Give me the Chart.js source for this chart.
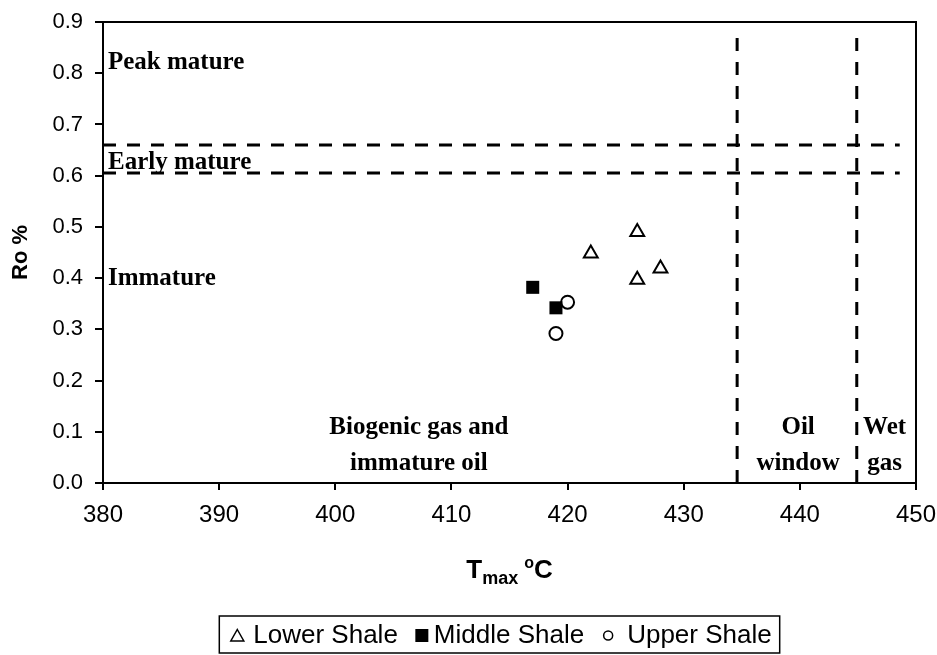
<!DOCTYPE html>
<html>
<head>
<meta charset="utf-8">
<title>Ro vs Tmax</title>
<script src="https://cdn.jsdelivr.net/npm/chart.js@4.4.0/dist/chart.umd.min.js"></script>
<style>
  html, body { margin: 0; padding: 0; background: #fff; }
  #wrap { width: 937px; height: 655px; }
</style>
</head>
<body>
<div id="wrap"><canvas id="maturityChart" width="937" height="655"></canvas></div>
<script>
// Tmax (°C) and Ro (%) per shale unit
const lowerTmax  = [426, 422, 428, 426];
const lowerRo    = [0.49, 0.448, 0.419, 0.397];
const middleTmax = [417, 419];
const middleRo   = [0.382, 0.342];
const upperTmax  = [420, 419];
const upperRo    = [0.353, 0.292];

// maturity zone boundaries
const roLimits   = [0.605, 0.66];
const tmaxLimits = [434.6, 444.9];

const xTicks = [380, 390, 400, 410, 420, 430, 440, 450];
const yTicks = [0, 0.1, 0.2, 0.3, 0.4, 0.5, 0.6, 0.7, 0.8, 0.9];

const seriesNames = ['Lower Shale', 'Middle Shale', 'Upper Shale'];

// zone names, placed in data units
const zoneLabels = [
    { lines: ['Peak mature'], x: 380.43, y: 0.82, align: 'left' },
    { lines: ['Early mature'], x: 380.43, y: 0.625, align: 'left' },
    { lines: ['Immature'], x: 380.43, y: 0.40, align: 'left' },
    { lines: ['Biogenic gas and', 'immature oil'], x: 407.2, y: 0.109, align: 'center' },
    { lines: ['Oil', 'window'], x: 439.85, y: 0.109, align: 'center' },
    { lines: ['Wet', 'gas'], x: 447.3, y: 0.109, align: 'center' }
];

function toPoints(xs, ys) {
    return xs.map((x, i) => ({ x: x, y: ys[i] }));
}

const dash = { borderColor: '#000', borderWidth: 3, borderDash: [13, 11], pointRadius: 0, showLine: true, fill: false };

const datasets = [
    { label: seriesNames[0], data: toPoints(lowerTmax, lowerRo), pointStyle: 'triangle', pointRadius: 8,
      backgroundColor: '#fff', borderColor: '#000', borderWidth: 2 },
    { label: seriesNames[1], data: toPoints(middleTmax, middleRo), pointStyle: 'rect', pointRadius: 9.2,
      backgroundColor: '#000', borderColor: '#000', borderWidth: 0 },
    { label: seriesNames[2], data: toPoints(upperTmax, upperRo), pointStyle: 'circle', pointRadius: 6.5,
      backgroundColor: '#fff', borderColor: '#000', borderWidth: 2 }
];
roLimits.forEach(r => datasets.push(Object.assign({ data: [{ x: 380, y: r }, { x: 448.6, y: r }] }, dash)));
tmaxLimits.forEach(t => datasets.push(Object.assign({ data: [{ x: t, y: 0 }, { x: t, y: 0.89 }] }, dash)));

const frameAndText = {
    id: 'frameAndText',
    afterDatasetsDraw(chart) {
        const ctx = chart.ctx;
        const a = chart.chartArea;
        const xs = chart.scales.x, ys = chart.scales.y;
        ctx.save();
        ctx.strokeStyle = '#000';
        ctx.lineWidth = 2;
        ctx.strokeRect(a.left, a.top, a.right - a.left, a.bottom - a.top);

        ctx.fillStyle = '#000';
        ctx.font = 'bold 25px "Liberation Serif", "Times New Roman", serif';
        ctx.textBaseline = 'middle';
        zoneLabels.forEach(z => {
            ctx.textAlign = z.align;
            const px = xs.getPixelForValue(z.x);
            const py = ys.getPixelForValue(z.y);
            z.lines.forEach((t, i) => ctx.fillText(t, px, py + i * 36));
        });
        ctx.restore();
    },
    afterDraw(chart) {
        const ctx = chart.ctx;
        const a = chart.chartArea;
        ctx.save();
        ctx.fillStyle = '#000';
        ctx.textBaseline = 'alphabetic';
        ctx.textAlign = 'left';

        // x axis title: T with subscript "max", then °C
        const big = 'bold 26px "Liberation Sans", Arial, sans-serif';
        const sub = 'bold 18px "Liberation Sans", Arial, sans-serif';
        const sup = 'bold 16px "Liberation Sans", Arial, sans-serif';
        ctx.font = big; const wT = ctx.measureText('T').width; const wC = ctx.measureText('C').width;
        ctx.font = sub; const wM = ctx.measureText('max').width;
        ctx.font = sup; const wO = ctx.measureText('o').width;
        const total = wT + wM + 6 + wO + wC;
        let x = (a.left + a.right) / 2 - total / 2;
        const base = 578;
        ctx.font = big; ctx.fillText('T', x, base); x += wT;
        ctx.font = sub; ctx.fillText('max', x, base + 6); x += wM + 6;
        ctx.font = sup; ctx.fillText('o', x, base - 10); x += wO;
        ctx.font = big; ctx.fillText('C', x, base);

        // legend box
        ctx.font = '26px "Liberation Sans", Arial, sans-serif';
        const widths = seriesNames.map(n => ctx.measureText(n).width);
        const padL = 18, toText = [16, 12, 19], between = 24, padR = 8;
        let boxW = padL + padR;
        widths.forEach((w, i) => { boxW += toText[i] + w + (i < widths.length - 1 ? between : 0); });
        const left = (a.left + a.right) / 2 - boxW / 2 - 10;
        const top = 616, h = 37, cy = top + h / 2 + 1;
        ctx.lineWidth = 1.5;
        ctx.strokeStyle = '#000';
        ctx.strokeRect(left, top, boxW, h);

        let mx = left + padL;
        ctx.textBaseline = 'middle';
        seriesNames.forEach((n, i) => {
            ctx.beginPath();
            if (i === 0) {
                ctx.moveTo(mx, cy - 6); ctx.lineTo(mx + 6.5, cy + 5.5); ctx.lineTo(mx - 6.5, cy + 5.5); ctx.closePath();
                ctx.fillStyle = '#fff'; ctx.fill(); ctx.stroke();
            } else if (i === 1) {
                ctx.fillStyle = '#000'; ctx.fillRect(mx - 6.5, cy - 6.5, 13, 13);
            } else {
                ctx.arc(mx, cy, 4.5, 0, Math.PI * 2);
                ctx.fillStyle = '#fff'; ctx.fill(); ctx.stroke();
            }
            ctx.fillStyle = '#000';
            const tx = mx + toText[i];
            ctx.fillText(n, tx, cy);
            mx = tx + widths[i] + between;
        });
        ctx.restore();
    }
};

const ctx = document.getElementById('maturityChart').getContext('2d');
const maturityChart = new Chart(ctx, {
    type: 'scatter',
    data: { datasets: datasets },
    options: {
        responsive: false,
        animation: false,
        layout: { padding: { top: 22, right: 21, left: 0, bottom: 0 } },
        plugins: {
            legend: { display: false },
            tooltip: { enabled: false }
        },
        scales: {
            x: {
                type: 'linear',
                min: 380, max: 450,
                afterBuildTicks: s => { s.ticks = xTicks.map(v => ({ value: v })); },
                afterFit: s => { s.height = 172; s.paddingLeft = 0; s.paddingRight = 0; },
                ticks: { color: '#000', padding: 11, font: { size: 24, family: '"Liberation Sans", Arial, sans-serif' } },
                grid: { drawOnChartArea: false, drawTicks: true, tickLength: 7, color: '#000', lineWidth: 2 },
                border: { color: '#000', width: 2 }
            },
            y: {
                type: 'linear',
                min: 0, max: 0.9,
                afterBuildTicks: s => { s.ticks = yTicks.map(v => ({ value: v })); },
                afterFit: s => { s.width = 103; s.paddingTop = 0; s.paddingBottom = 0; },
                ticks: {
                    color: '#000', padding: 12,
                    font: { size: 22, family: '"Liberation Sans", Arial, sans-serif' },
                    callback: v => Number(v).toFixed(1)
                },
                grid: { drawOnChartArea: false, drawTicks: true, tickLength: 8, color: '#000', lineWidth: 2 },
                border: { color: '#000', width: 2 },
                title: {
                    display: true, text: 'Ro %', color: '#000',
                    font: { size: 22, weight: 'bold', family: '"Liberation Sans", Arial, sans-serif' },
                    padding: { top: 8, bottom: 0 }
                }
            }
        }
    },
    plugins: [frameAndText]
});
</script>
</body>
</html>
